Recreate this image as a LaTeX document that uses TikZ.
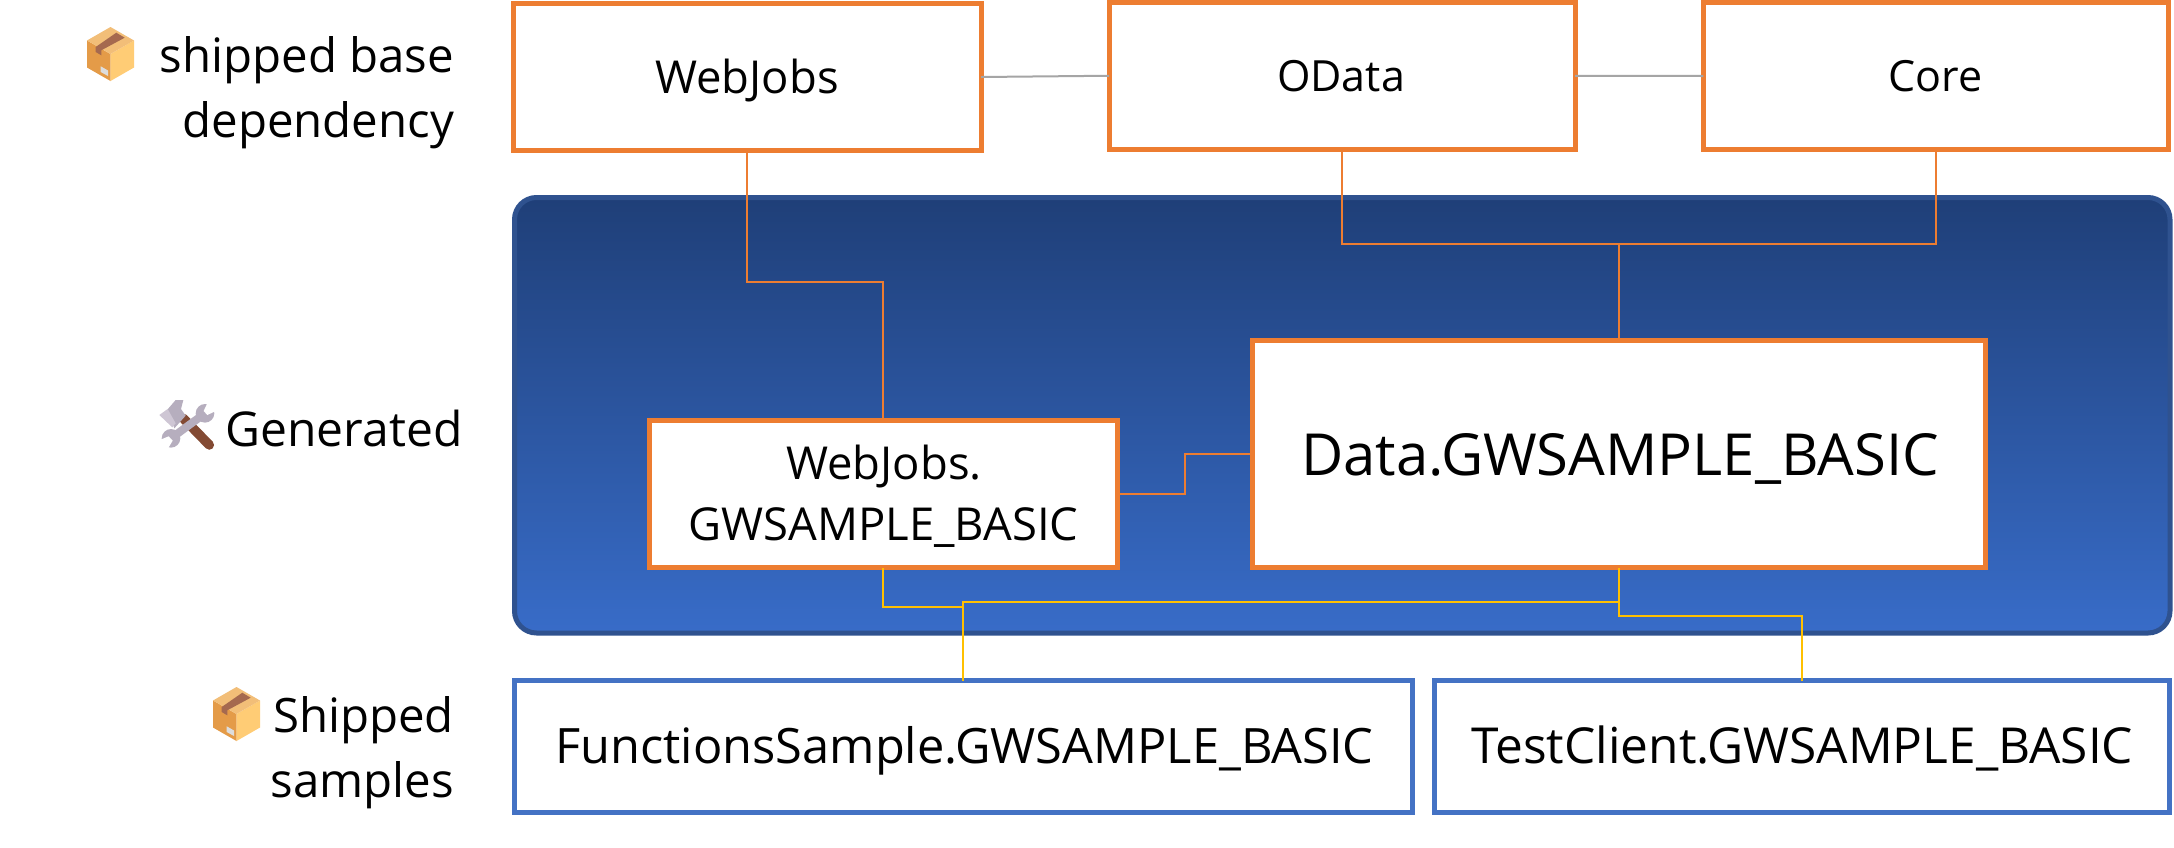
\documentclass[tikz,border=0pt]{standalone}
\usepackage{fontspec}
\setmainfont{Open Sans}
\newcommand{\fsz}[1]{\fontsize{#1}{#1}\selectfont}
\definecolor{orangeb}{HTML}{ED7D31}
\definecolor{blueb}{HTML}{4472C4}
\definecolor{panelb}{HTML}{2F528F}
\definecolor{yell}{HTML}{FFC000}
\definecolor{grayl}{HTML}{A5A5A5}
\newcommand{\boxicon}[2]{%
\begin{scope}[shift={(#1,#2)}]
\fill[fill=boxl] (23.5,27)--(23.5,54)--(0,40.5)--(0,13.5)--cycle;
\fill[fill=boxr] (23.5,27)--(23.5,54)--(47,40.5)--(47,13.5)--cycle;
\fill[fill=boxt] (23.5,0)--(47,13.5)--(23.5,27)--(0,13.5)--cycle;
\fill[fill=tape] (29.3,5.7)--(37.7,10.7)--(14.3,23.3)--(14.3,28.3)--(8.7,25)--(8.7,20)--cycle;
\fill[fill=boxlab] (13.7,39.3)--(21,43.5)--(21,49)--(13.7,45)--cycle;
\end{scope}}
\definecolor{boxl}{HTML}{E49B48}
\definecolor{boxr}{HTML}{FFCC75}
\definecolor{boxt}{HTML}{F2BE78}
\definecolor{tape}{HTML}{A5694F}
\definecolor{boxlab}{HTML}{DDDDDD}
\definecolor{toolg}{HTML}{B6AEBE}
\definecolor{toollg}{HTML}{CEC6D4}
\definecolor{toolb}{HTML}{834A33}
\tikzset{
 obox/.style={draw=orangeb,line width=5pt,fill=white,rectangle,outer sep=0pt,inner sep=0pt,align=center},
 bbox/.style={draw=blueb,line width=5pt,fill=white,rectangle,outer sep=0pt,inner sep=0pt,align=center},
 oline/.style={draw=orangeb,line width=2pt},
 yline/.style={draw=yell,line width=2pt},
 gline/.style={draw=grayl,line width=2pt},
 side/.style={inner sep=0pt,outer sep=0pt,align=right,text=black},
}
\begin{document}
\begin{tikzpicture}[x=1pt,y=-1pt]
\useasboundingbox (0,0) rectangle (2174,847);
\fill[white] (0,0) rectangle (2174,847);
% panel
\shade[rounded corners=22pt,top color={rgb,255:red,31;green,63;blue,120},bottom color={rgb,255:red,56;green,108;blue,200},draw=panelb,line width=5pt] (514.5,197.5) rectangle (2170,633);
% boxes
\node[obox,minimum width=468pt,minimum height=147pt] (web) at (747,77) {};
\node[obox,minimum width=466pt,minimum height=147.5pt] (odata) at (1342,75.75) {};
\node[obox,minimum width=465.5pt,minimum height=147pt] (core) at (1936,76) {};
\node[obox,minimum width=468pt,minimum height=147pt] (gw) at (883,494) {};
\node[obox,minimum width=733pt,minimum height=227pt] (data) at (1619,454) {};
\node[bbox,minimum width=898pt,minimum height=132pt] (fs) at (963,746.5) {};
\node[bbox,minimum width=735.5pt,minimum height=132pt] (tc) at (1802,746.5) {};
% coordinates
\coordinate (a) at (883,282);
\coordinate (b) at (1342,244);
\coordinate (y1) at (963,607);
\coordinate (y2) at (963,602);
\coordinate (y3) at (1802,616);
% connectors
\draw[gline] (web.east) -- (odata.west);
\draw[gline] (odata.east) -- (core.west);
\draw[oline] (web.south) |- (a) -- (gw.north);
\draw[oline] (odata.south) |- (data.north |- b);
\draw[oline] (core.south) |- (data.north |- b) -- (data.north);
\draw[oline] (gw.east) -- ++(68,0) |- (data.west);
\draw[yline] (gw.south) |- (y1);
\draw[yline] (data.south) |- (y2) -- (fs.north);
\draw[yline] (data.south) |- (y3) -- (tc.north);
% labels in boxes
\node[inner sep=0pt,anchor=base] (t1) at (747,93.3) {\fsz{45.4}WebJobs};
\node[inner sep=0pt,anchor=base] (t2) at (1341,91) {\fsz{43}OData};
\node[inner sep=0pt,anchor=base] (t3) at (1935.5,91) {\fsz{43}Core};
\node[inner sep=0pt,anchor=base] (t4) at (884,479) {\fsz{45.4}WebJobs.};
\node[inner sep=0pt,anchor=base] (t5) at (883.5,540) {\fsz{45.4}GWSAMPLE\_BASIC};
\node[inner sep=0pt,anchor=base] (t6) at (1620,475.6) {\fsz{58}Data.GWSAMPLE\_BASIC};
\node[inner sep=0pt,anchor=base] (t7) at (964.5,763) {\fsz{48.75}FunctionsSample.GWSAMPLE\_BASIC};
\node[inner sep=0pt,anchor=base] (t8) at (1802.25,763) {\fsz{49.6}TestClient.GWSAMPLE\_BASIC};
% side labels
\node[side,anchor=base east] (s1) at (454,72) {\fsz{47.4}shipped base};
\node[side,anchor=base east] (s2) at (454,137) {\fsz{47.4}dependency};
\node[side,anchor=base east] (s3) at (462.5,446) {\fsz{48}Generated};
\node[side,anchor=base east] (s4) at (454,732) {\fsz{47.4}Shipped};
\node[side,anchor=base east] (s5) at (454,797) {\fsz{47.4}samples};
% icons
\boxicon{87}{27}
\boxicon{213}{687}
\begin{scope}[shift={(155,395)},x=0.3333pt,y=-0.3333pt]
\draw[toolb,line width=9.5pt,line cap=round] (85,70) -- (163,150);
\fill[toolg] (38,43)--(62,15)--(85,15)--(78,42)--(92,62)--(58,100)--cycle;
\fill[toollg] (13,60)--(38,42)--(62,85)--(52,97)--cycle;
\draw[toolg,line width=8pt] (150,55)--(48,130);
\fill[toolg] (150,55) circle (9.3pt);
\fill[toolg] (48,130) circle (9.3pt);
\fill[white] (146,48)--(157,60)--(195,42)--(165,8)--cycle;
\fill[white] (41,124)--(53,137)--(32,172)--(2,140)--cycle;
\end{scope}
\end{tikzpicture}
\end{document}
